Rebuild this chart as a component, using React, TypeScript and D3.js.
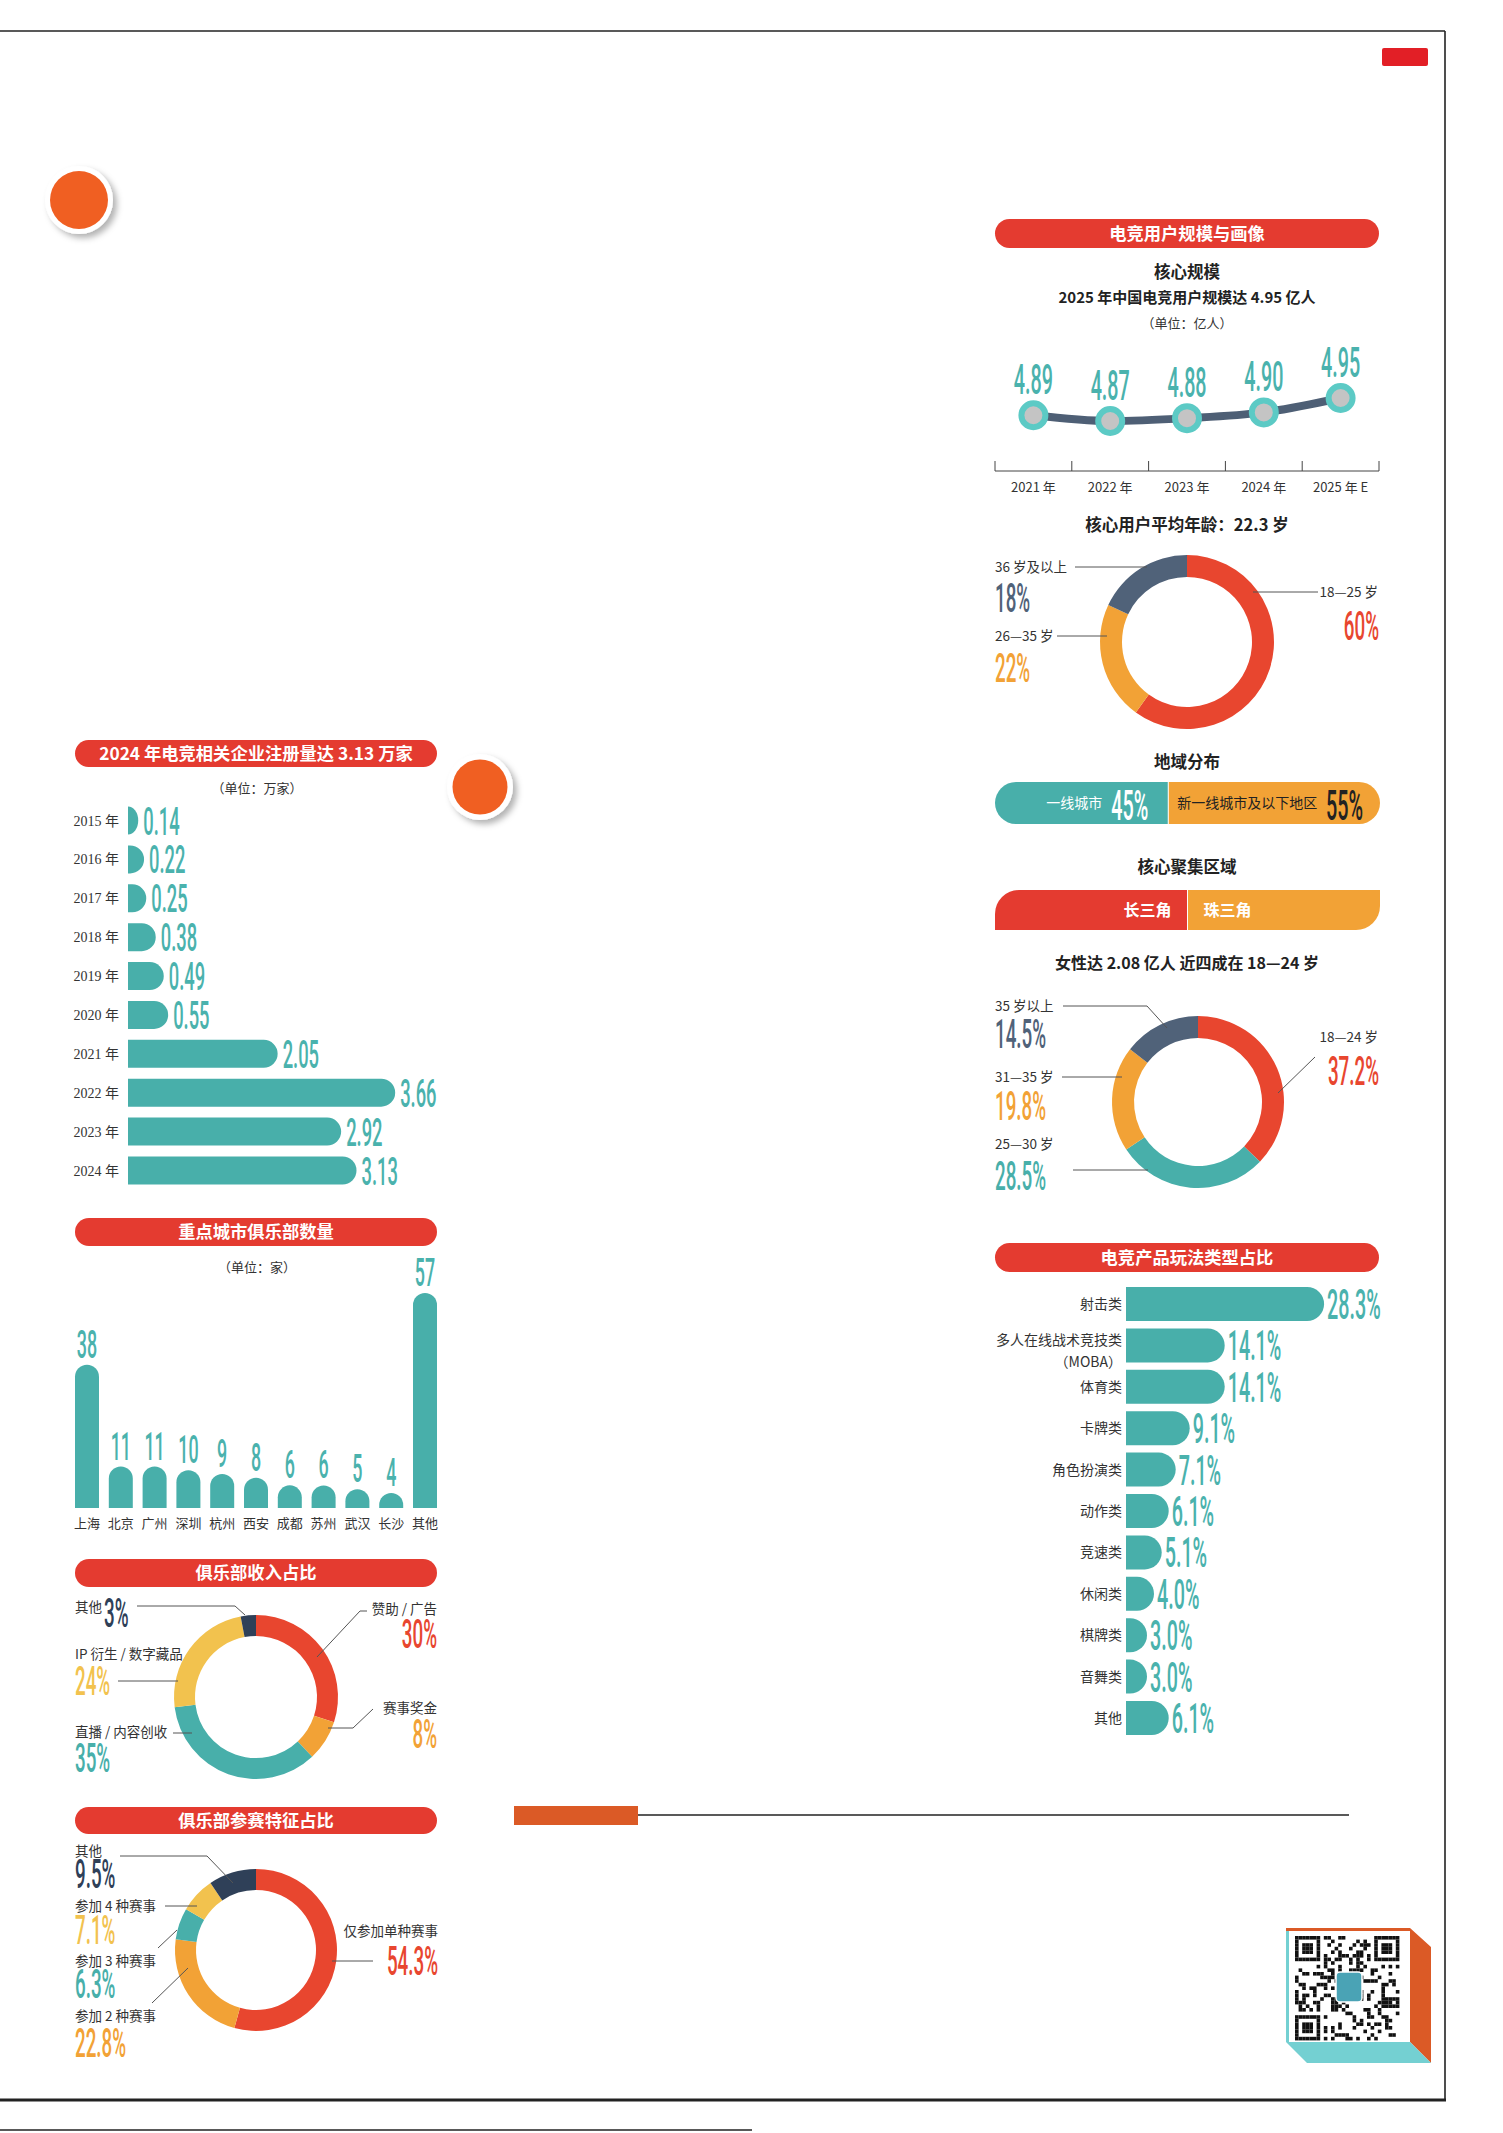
import React from 'react';
import * as d3 from 'd3';

// ---------------- DATA ----------------
const userYears = ['2021 年', '2022 年', '2023 年', '2024 年', '2025 年 E'];
const userScale = [4.89, 4.87, 4.88, 4.9, 4.95];

const ageGroups = ['18—25 岁', '26—35 岁', '36 岁及以上'];
const ageShares = [60, 22, 18];

const regionLabels = ['一线城市', '新一线城市及以下地区'];
const regionShares = [45, 55];

const clusterLabels = ['长三角', '珠三角'];
const clusterShares = [50, 50];

const femaleAgeGroups = ['18—24 岁', '25—30 岁', '31—35 岁', '35 岁以上'];
const femaleShares = [37.2, 28.5, 19.8, 14.5];

const genreNames = ['射击类', '多人在线战术竞技类（MOBA）', '体育类', '卡牌类', '角色扮演类', '动作类', '竞速类', '休闲类', '棋牌类', '音舞类', '其他'];
const genreShares = [28.3, 14.1, 14.1, 9.1, 7.1, 6.1, 5.1, 4.0, 3.0, 3.0, 6.1];

const regYears = ['2015 年', '2016 年', '2017 年', '2018 年', '2019 年', '2020 年', '2021 年', '2022 年', '2023 年', '2024 年'];
const regCounts = [0.14, 0.22, 0.25, 0.38, 0.49, 0.55, 2.05, 3.66, 2.92, 3.13];

const cityNames = ['上海', '北京', '广州', '深圳', '杭州', '西安', '成都', '苏州', '武汉', '长沙', '其他'];
const clubCounts = [38, 11, 11, 10, 9, 8, 6, 6, 5, 4, 57];

const revenueNames = ['赞助 / 广告', '赛事奖金', '直播 / 内容创收', 'IP 衍生 / 数字藏品', '其他'];
const revenueShares = [30, 8, 35, 24, 3];

const participationNames = ['仅参加单种赛事', '参加 2 种赛事', '参加 3 种赛事', '参加 4 种赛事', '其他'];
const participationShares = [54.3, 22.8, 6.3, 7.1, 9.5];

const titles = {
  user: '电竞用户规模与画像',
  core: '核心规模',
  coreSub: '2025 年中国电竞用户规模达 4.95 亿人',
  coreUnit: '（单位：亿人）',
  age: '核心用户平均年龄：22.3 岁',
  region: '地域分布',
  cluster: '核心聚集区域',
  female: '女性达 2.08 亿人 近四成在 18—24 岁',
  genre: '电竞产品玩法类型占比',
  reg: '2024 年电竞相关企业注册量达 3.13 万家',
  regUnit: '（单位：万家）',
  club: '重点城市俱乐部数量',
  clubUnit: '（单位：家）',
  revenue: '俱乐部收入占比',
  participation: '俱乐部参赛特征占比',
};

// ---------------- STYLE ----------------
const CJK = '"Noto Sans CJK SC", "Noto Sans", sans-serif';
const NUM = 'Roboto, "Noto Sans", sans-serif';
const SERIF = '"Liberation Serif", "Noto Sans CJK SC", serif';
const C = {
  title: '#e43b30',
  red: '#e8462f',
  teal: '#48afaa',
  tealLabel: '#4ab2ad',
  orange: '#f2a236',
  slate: '#506279',
  navy: '#2f4058',
  yellow: '#f2c24e',
  text: '#333333',
  line: '#555555',
};

function Big({ x, y, text, fill, anchor = 'start', size = 41, sx = 0.47 }: any) {
  return (
    <text transform={`translate(${x},${y}) scale(${sx},1)`} textAnchor={anchor} fontFamily={NUM}
      fontWeight={500} fontSize={size} fill={fill}>{text}</text>
  );
}

function TitleBar({ x0, x1, y0, h, text }: any) {
  return (
    <g>
      <rect x={x0} y={y0} width={x1 - x0} height={h} rx={h / 2} fill={C.title} />
      <text x={(x0 + x1) / 2} y={y0 + h / 2} dy="0.36em" textAnchor="middle" fontFamily={CJK}
        fontWeight={700} fontSize={17.3} fill="#fff">{text}</text>
    </g>
  );
}

function Label({ x, y, text, anchor = 'start', size = 13.5, weight = 400, fill = C.text, family = CJK }: any) {
  return (
    <text x={x} y={y} dy="0.36em" textAnchor={anchor} fontFamily={family} fontWeight={weight}
      fontSize={size} fill={fill}>{text}</text>
  );
}

function hBarPath(x0: number, yc: number, w: number, h: number) {
  const rx = Math.min(w, h / 2), ry = h / 2, y0 = yc - h / 2;
  return `M${x0},${y0}H${x0 + w - rx}A${rx},${ry} 0 0 1 ${x0 + w - rx},${y0 + h}H${x0}Z`;
}
function vBarPath(x0: number, yb: number, w: number, h: number) {
  const rx = w / 2, ry = Math.min(h, w / 2);
  return `M${x0},${yb}V${yb - h + ry}A${rx},${ry} 0 0 1 ${x0 + w},${yb - h + ry}V${yb}Z`;
}

type LabelLayout = { lx: number; ly: number; anchor: string; nx: number; ny: number; line: number[][] };

function Donut({ cx, cy, ro, ri, values, names, colors, fmt, layout }: any) {
  const pie = d3.pie<number>().sort(null).value((d) => d);
  const arc = d3.arc<d3.PieArcDatum<number>>().innerRadius(ri).outerRadius(ro);
  const arcs = pie(values);
  const lineGen = d3.line();
  return (
    <g>
      <g transform={`translate(${cx},${cy})`}>
        {arcs.map((a, i) => <path key={i} d={arc(a) || ''} fill={colors[i]} />)}
      </g>
      {layout.map((l: LabelLayout, i: number) => (
        <g key={i}>
          <path d={lineGen(l.line as any) || ''} fill="none" stroke={C.line} strokeWidth={1} />
          <Label x={l.lx} y={l.ly} text={names[i]} anchor={l.anchor} />
          <Big x={l.nx} y={l.ny} text={fmt(values[i])} fill={colors[i]} anchor={l.anchor} size={40} />
        </g>
      ))}
    </g>
  );
}

// --------------- QR decoration ---------------
const QN = 29;
function qrOn(i: number, j: number) {
  const finder = (a: number, b: number) => a === 0 || a === 6 || b === 0 || b === 6 || (a >= 2 && a <= 4 && b >= 2 && b <= 4);
  if (i < 7 && j < 7) return finder(i, j);
  if (i < 7 && j >= QN - 7) return finder(i, j - (QN - 7));
  if (i >= QN - 7 && j < 7) return finder(i - (QN - 7), j);
  if ((i < 8 && j < 8) || (i < 8 && j >= QN - 8) || (i >= QN - 8 && j < 8)) return false;
  return ((i * 31 + j * 17) ^ (i * j + 5)) % 3 === 0;
}

export default function App() {
  // ---- line chart ----
  const xUser = d3.scaleBand<string>().domain(userYears).range([995, 1379]);
  const yUser = d3.scaleLinear().domain([4.87, 4.95]).range([421, 398]);
  const ux = (d: string) => (xUser(d) as number) + xUser.bandwidth() / 2;
  const userLine = d3.line<number>().x((_, i) => ux(userYears[i])).y((v) => yUser(v)).curve(d3.curveMonotoneX);
  const axisY = 471;

  // ---- region pill ----
  const xReg = d3.scaleLinear().domain([0, 100]).range([995, 1380]);
  const regSplit = xReg(regionShares[0]);
  const xClu = d3.scaleLinear().domain([0, 100]).range([995, 1380]);
  const cluSplit = xClu(clusterShares[0]);

  // ---- genre bars ----
  const xGenre = d3.scaleLinear().domain([0, 1]).range([0, 7]);
  const yGenre = d3.scalePoint<string>().domain(genreNames).range([1304, 1718]);
  const genreX0 = 1126;

  // ---- registration bars ----
  const xRegC = d3.scaleLinear().domain([0, 1]).range([0, 73]);
  const yRegC = d3.scalePoint<string>().domain(regYears).range([820.5, 1170.5]);
  const regX0 = 128;

  // ---- club bars ----
  const xClub = d3.scaleBand<string>().domain(cityNames).range([75, 437]).paddingInner(0.29).paddingOuter(0);
  const yClub = d3.scaleLinear().domain([0, 57]).range([1508, 1293]);

  const ageLayout: LabelLayout[] = [
    { lx: 1378, ly: 592, anchor: 'end', nx: 1379, ny: 640, line: [[1253, 592], [1318, 592]] },
    { lx: 995, ly: 636, anchor: 'start', nx: 995, ny: 682, line: [[1057, 636], [1107, 636]] },
    { lx: 995, ly: 567, anchor: 'start', nx: 995, ny: 612, line: [[1075, 567], [1147, 567]] },
  ];
  const femaleLayout: LabelLayout[] = [
    { lx: 1378, ly: 1037, anchor: 'end', nx: 1379, ny: 1085, line: [[1315, 1057], [1278, 1093]] },
    { lx: 995, ly: 1144, anchor: 'start', nx: 995, ny: 1190, line: [[1073, 1170], [1148, 1170]] },
    { lx: 995, ly: 1077, anchor: 'start', nx: 995, ny: 1120, line: [[1062, 1077], [1122, 1077]] },
    { lx: 995, ly: 1006, anchor: 'start', nx: 995, ny: 1048, line: [[1063, 1006], [1147, 1006], [1167, 1028]] },
  ];
  const revenueLayout: LabelLayout[] = [
    { lx: 437, ly: 1609, anchor: 'end', nx: 437, ny: 1648, line: [[367, 1611], [360, 1611], [317, 1657]] },
    { lx: 437, ly: 1708, anchor: 'end', nx: 437, ny: 1748, line: [[373, 1709], [353, 1728], [328, 1728]] },
    { lx: 75, ly: 1732, anchor: 'start', nx: 75, ny: 1772, line: [[173, 1733], [192, 1733]] },
    { lx: 75, ly: 1654, anchor: 'start', nx: 75, ny: 1695, line: [[118, 1681], [178, 1681]] },
    { lx: 75, ly: 1607, anchor: 'start', nx: 104, ny: 1627, line: [[137, 1606], [235, 1606], [245, 1615]] },
  ];
  const partLayout: LabelLayout[] = [
    { lx: 438, ly: 1931, anchor: 'end', nx: 438, ny: 1975, line: [[332, 1961], [373, 1961]] },
    { lx: 75, ly: 2016, anchor: 'start', nx: 75, ny: 2057, line: [[152, 2003], [188, 1968]] },
    { lx: 75, ly: 1961, anchor: 'start', nx: 75, ny: 1998, line: [[158, 1948], [177, 1930]] },
    { lx: 75, ly: 1906, anchor: 'start', nx: 75, ny: 1944, line: [[165, 1906], [197, 1906]] },
    { lx: 75, ly: 1851, anchor: 'start', nx: 75, ny: 1888, line: [[120, 1856], [207, 1856], [233, 1883]] },
  ];

  const qrCell = 3.6, qrX = 1295, qrY = 1936;
  const qrMods: JSX.Element[] = [];
  for (let i = 0; i < QN; i++) for (let j = 0; j < QN; j++) {
    if (qrOn(i, j)) qrMods.push(<rect key={`${i}-${j}`} x={qrX + j * qrCell} y={qrY + i * qrCell} width={qrCell} height={qrCell} fill="#111" />);
  }

  return (
    <svg width={1503} height={2133} style={{ position: 'absolute', left: 0, top: 0, background: '#fff' }}>
      <defs>
        <filter id="shadow" x="-50%" y="-50%" width="200%" height="200%">
          <feDropShadow dx="4" dy="4" stdDeviation="3" floodColor="#000" floodOpacity="0.3" />
        </filter>
        <clipPath id="pillClip">
          <rect x={995} y={782} width={385} height={42} rx={21} />
        </clipPath>
      </defs>
      <rect x={0} y={0} width={1503} height={2133} fill="#fff" />

      {/* page frame */}
      <line x1={0} y1={31} x2={1445} y2={31} stroke="#222" strokeWidth={1.6} />
      <line x1={1445} y1={31} x2={1445} y2={2100} stroke="#222" strokeWidth={1.6} />
      <line x1={0} y1={2100} x2={1446} y2={2100} stroke="#222" strokeWidth={3} />
      <line x1={0} y1={2130} x2={752} y2={2130} stroke="#222" strokeWidth={1.5} />
      <rect x={1382} y={48} width={46} height={18} rx={2} fill="#e21f26" />

      {/* decorative circles */}
      <circle cx={79} cy={200} r={34} fill="#fff" filter="url(#shadow)" />
      <circle cx={79} cy={200} r={29} fill="#f05f22" />
      <circle cx={480} cy={787} r={33} fill="#fff" filter="url(#shadow)" />
      <circle cx={480} cy={787} r={27.5} fill="#f05f22" />

      {/* ============ RIGHT COLUMN ============ */}
      <TitleBar x0={995} x1={1379} y0={219} h={29} text={titles.user} />
      <Label x={1187} y={272} text={titles.core} anchor="middle" size={16.5} weight={700} fill="#222" />
      <Label x={1187} y={298} text={titles.coreSub} anchor="middle" size={15} weight={700} fill="#222" />
      <Label x={1187} y={323} text={titles.coreUnit} anchor="middle" size={13} />

      <path d={userLine(userScale) || ''} fill="none" stroke="#4e5f75" strokeWidth={8} />
      {userScale.map((v, i) => (
        <g key={i}>
          <circle cx={ux(userYears[i])} cy={yUser(v)} r={12} fill="#c4c4c4" stroke="#5ccac5" strokeWidth={6} />
          <Big x={ux(userYears[i])} y={yUser(v) - 21} text={v.toFixed(2)} fill={C.tealLabel} anchor="middle" size={42} />
        </g>
      ))}
      <line x1={995} y1={axisY} x2={1379} y2={axisY} stroke="#444" strokeWidth={1} />
      {[...userYears.map((d) => xUser(d) as number), 1379].map((x, i) => (
        <line key={i} x1={x} y1={axisY - 10} x2={x} y2={axisY} stroke="#444" strokeWidth={1} />
      ))}
      {userYears.map((d) => <Label key={d} x={ux(d)} y={487} text={d} anchor="middle" size={13} />)}

      <Label x={1187} y={525} text={titles.age} anchor="middle" size={16.5} weight={700} fill="#222" />
      <Donut cx={1187} cy={642} ro={87} ri={65} values={ageShares} names={ageGroups}
        colors={[C.red, C.orange, C.slate]} fmt={(v: number) => `${v}%`} layout={ageLayout} />

      <Label x={1187} y={762} text={titles.region} anchor="middle" size={16.5} weight={700} fill="#222" />
      <g clipPath="url(#pillClip)">
        <rect x={xReg(0)} y={782} width={regSplit - xReg(0)} height={42} fill={C.teal} />
        <rect x={regSplit} y={782} width={xReg(100) - regSplit} height={42} fill={C.orange} />
      </g>
      <line x1={regSplit} y1={782} x2={regSplit} y2={824} stroke="#fff" strokeWidth={1} />
      <Label x={regSplit - 66} y={803} text={regionLabels[0]} anchor="end" size={14} fill="#fff" />
      <Big x={regSplit - 20} y={820} text={`${regionShares[0]}%`} fill="#fff" anchor="end" size={42} />
      <Label x={regSplit + 9} y={803} text={regionLabels[1]} anchor="start" size={14} fill="#222" />
      <Big x={xReg(100) - 17} y={820} text={`${regionShares[1]}%`} fill="#222" anchor="end" size={42} />

      <Label x={1187} y={867} text={titles.cluster} anchor="middle" size={16.5} weight={700} fill="#222" />
      <path d={`M${xClu(0)},930V914A24,24 0 0 1 ${xClu(0) + 24},890H${cluSplit}V930Z`} fill={C.title} />
      <path d={`M${cluSplit},890H${xClu(100)}V906A24,24 0 0 1 ${xClu(100) - 24},930H${cluSplit}Z`} fill={C.orange} />
      <line x1={cluSplit} y1={890} x2={cluSplit} y2={930} stroke="#fff" strokeWidth={1} />
      <Label x={cluSplit - 16} y={910} text={clusterLabels[0]} anchor="end" size={16} weight={700} fill="#fff" />
      <Label x={cluSplit + 16} y={910} text={clusterLabels[1]} anchor="start" size={16} weight={700} fill="#fff" />

      <Label x={1187} y={963} text={titles.female} anchor="middle" size={16} weight={700} fill="#222" />
      <Donut cx={1198} cy={1102} ro={86} ri={64} values={femaleShares} names={femaleAgeGroups}
        colors={[C.red, C.teal, C.orange, C.slate]} fmt={(v: number) => `${v.toFixed(1)}%`} layout={femaleLayout} />

      <TitleBar x0={995} x1={1379} y0={1243} h={29} text={titles.genre} />
      {genreNames.map((n, i) => {
        const yc = yGenre(n) as number;
        const w = xGenre(genreShares[i]);
        const parts = n.split('（');
        return (
          <g key={n}>
            <path d={hBarPath(genreX0, yc, w, 34)} fill={C.teal} />
            <Big x={genreX0 + w + 3} y={yc + 15} text={`${genreShares[i].toFixed(1)}%`} fill={C.tealLabel} size={42} />
            {parts.length > 1 ? (
              <g>
                <Label x={1122} y={yc - 5} text={parts[0]} anchor="end" size={14} />
                <Label x={1122} y={yc + 17} text={`（${parts[1]}`} anchor="end" size={14} />
              </g>
            ) : (
              <Label x={1122} y={yc} text={n} anchor="end" size={14} />
            )}
          </g>
        );
      })}

      {/* ============ LEFT COLUMN ============ */}
      <TitleBar x0={75} x1={437} y0={740} h={27} text={titles.reg} />
      <Label x={257} y={788} text={titles.regUnit} anchor="middle" size={13} />
      {regYears.map((yr, i) => {
        const yc = yRegC(yr) as number;
        const w = xRegC(regCounts[i]);
        return (
          <g key={yr}>
            <Label x={119} y={yc} text={yr} anchor="end" size={14} family={SERIF} />
            <path d={hBarPath(regX0, yc, w, 28)} fill={C.teal} />
            <Big x={regX0 + w + 5} y={yc + 14} text={regCounts[i].toFixed(2)} fill={C.tealLabel} size={39} />
          </g>
        );
      })}

      <TitleBar x0={75} x1={437} y0={1218} h={28} text={titles.club} />
      <Label x={257} y={1267} text={titles.clubUnit} anchor="middle" size={13} />
      {cityNames.map((c, i) => {
        const x0 = xClub(c) as number;
        const bw = xClub.bandwidth();
        const h = yClub(0) - yClub(clubCounts[i]);
        return (
          <g key={c}>
            <path d={vBarPath(x0, yClub(0), bw, h)} fill={C.teal} />
            <Big x={x0 + bw / 2} y={yClub(clubCounts[i]) - 7} text={`${clubCounts[i]}`} fill={C.tealLabel} anchor="middle" size={38} />
            <Label x={x0 + bw / 2} y={1523} text={c} anchor="middle" size={13} />
          </g>
        );
      })}

      <TitleBar x0={75} x1={437} y0={1559} h={28} text={titles.revenue} />
      <Donut cx={256} cy={1697} ro={82} ri={61} values={revenueShares} names={revenueNames}
        colors={[C.red, C.orange, C.teal, C.yellow, C.navy]} fmt={(v: number) => `${v}%`} layout={revenueLayout} />

      <TitleBar x0={75} x1={437} y0={1807} h={27} text={titles.participation} />
      <Donut cx={256} cy={1950} ro={81} ri={60} values={participationShares} names={participationNames}
        colors={[C.red, C.orange, C.teal, C.yellow, C.navy]} fmt={(v: number) => `${v.toFixed(1)}%`} layout={partLayout} />

      {/* ============ BOTTOM DECOR ============ */}
      <rect x={514} y={1806} width={124} height={19} fill="#db5a26" />
      <line x1={638} y1={1815} x2={1349} y2={1815} stroke="#222" strokeWidth={1.5} />

      <polygon points="1286,1928 1410,1928 1431,1947 1431,2063 1410,2042 1410,1931 1286,1931" fill="#db5a26" />
      <polygon points="1286,2042 1410,2042 1431,2063 1307,2063" fill="#74d0d2" />
      <rect x={1286} y={1931} width={3} height={111} fill="#74d0d2" />
      <rect x={1289} y={1931} width={121} height={111} fill="#fff" />
      {qrMods}
      <rect x={1336} y={1972} width={26} height={30} rx={4} fill="#4aa3b5" stroke="#fff" strokeWidth={1.5} />
    </svg>
  );
}
